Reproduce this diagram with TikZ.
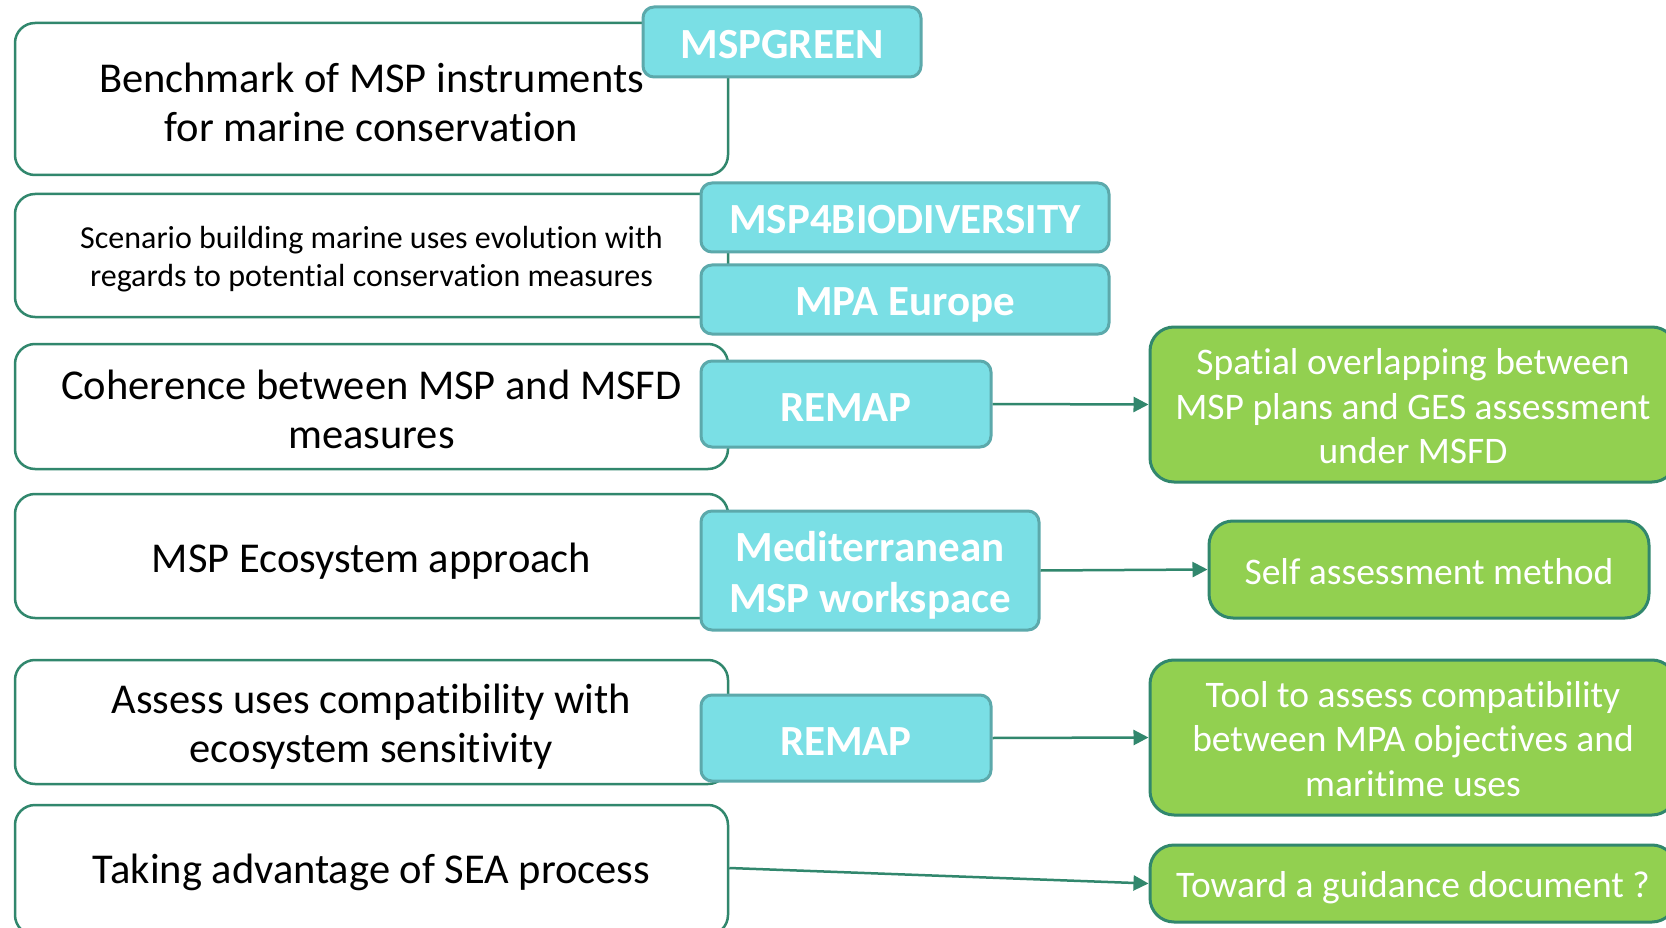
\documentclass[tikz,border=0pt]{standalone}
\usepackage{fontspec}
\setmainfont{Carlito}[Ligatures={NoCommon}]
\usetikzlibrary{arrows.meta}
\definecolor{tealline}{HTML}{31876D}
\definecolor{cyanfill}{HTML}{7ADFE5}
\definecolor{cyanline}{HTML}{5CA9AB}
\definecolor{greenfill}{HTML}{92D050}
\begin{document}
\begin{tikzpicture}[x=1pt,y=-1pt,
  wbox/.style={draw=tealline, line width=2.5pt, rounded corners=20pt, fill=white,
    minimum width=713pt, inner sep=0pt},
  wtext/.style={align=center, inner sep=0pt, text=black,
    font=\fontsize{42.5}{49}\selectfont},
  cbox/.style={draw=cyanline, line width=3pt, rounded corners=11pt, fill=cyanfill,
    inner sep=0pt},
  ctext/.style={align=center, inner sep=0pt, text=white,
    font=\fontsize{43}{51}\selectfont\bfseries},
  gbox/.style={draw=tealline, line width=3pt, rounded corners=24pt, fill=greenfill,
    inner sep=0pt},
  gtext/.style={align=center, inner sep=0pt, text=white,
    font=\fontsize{37.5}{44.5}\selectfont},
  conn/.style={draw=tealline, line width=2.5pt, -{Triangle[length=15pt,width=15pt]}}
]
\useasboundingbox (0,0) rectangle (1666,928);
\clip (0,0) rectangle (1666,928);
\fill[white] (0,0) rectangle (1666,928);

% left boxes
\node[wbox, minimum height=152pt] (b1) at (371.5,99) {};
\node[wtext] (b1t) at ([yshift=-3.5pt]b1.center) {Benchmark of MSP instruments\\for marine conservation};
\node[wbox, minimum height=123pt] (b2) at (371.5,255.5) {};
\node[wtext, font=\fontsize{32}{38}\selectfont] (b2t) at ([yshift=-4pt]b2.center) {Scenario building marine uses evolution with\\regards to potential conservation measures};
\node[wbox, minimum height=125pt] (b3) at (371.5,406.5) {};
\node[wtext] (b3t) at ([yshift=-2.5pt]b3.center) {Coherence between MSP and MSFD\\measures};
\node[wbox, minimum height=124pt] (b4) at (371.5,556) {};
\node[wtext] (b4t) at ([yshift=-5pt]b4.center) {MSP Ecosystem approach};
\node[wbox, minimum height=124pt] (b5) at (371.5,722) {};
\node[wtext] (b5t) at ([yshift=-5pt]b5.center) {Assess uses compatibility with\\ecosystem sensitivity};
\node[wbox, minimum height=130pt] (b6) at (371.5,870) {};
\node[wtext] (b6t) at (371.5,872) {Taking advantage of SEA process};

% project boxes
\node[cbox, minimum width=278pt, minimum height=70pt] (p1) at (782,42) {};
\node[ctext] (p1t) at ([yshift=-2.5pt]p1.center) {MSPGREEN};
\node[cbox, minimum width=408pt, minimum height=69pt] (p2) at (905,217.5) {};
\node[ctext] (p2t) at ([yshift=-2.5pt]p2.center) {MSP4BIODIVERSITY};
\node[cbox, minimum width=408pt, minimum height=69pt] (p3) at (905,299.5) {};
\node[ctext] (p3t) at ([yshift=-5pt]p3.center) {MPA Europe};
\node[cbox, minimum width=290pt, minimum height=86pt] (p4) at (846,404) {};
\node[ctext] (p4t) at ([yshift=-3.5pt]p4.center) {REMAP};
\node[cbox, minimum width=338pt, minimum height=119pt] (p5) at (870,570.5) {};
\node[ctext] (p5t) at ([yshift=-5pt]p5.center) {Mediterranean\\MSP workspace};
\node[cbox, minimum width=290pt, minimum height=86pt] (p6) at (846,738) {};
\node[ctext] (p6t) at ([yshift=-3.5pt]p6.center) {REMAP};

% result boxes
\node[gbox, minimum width=526pt, minimum height=155pt] (g1) at (1413,404.5) {};
\node[gtext] (g1t) at ([yshift=-2pt]g1.center) {Spatial overlapping between\\MSP plans and GES assessment\\under MSFD};
\node[gbox, minimum width=440pt, minimum height=97pt] (g2) at (1429,569.5) {};
\node[gtext] (g2t) at ([yshift=-2.5pt]g2.center) {Self assessment method};
\node[gbox, minimum width=526pt, minimum height=155pt] (g3) at (1413,737.5) {};
\node[gtext] (g3t) at ([yshift=-1.5pt]g3.center) {Tool to assess compatibility\\between MPA objectives and\\maritime uses};
\node[gbox, minimum width=526pt, minimum height=77pt] (g4) at (1413,883.5) {};
\node[gtext] (g4t) at ([yshift=-4pt]g4.center) {Toward a guidance document ?};

% connectors
\draw[conn] (p4.east) -- (g1.west);
\draw[conn] (p5.east) -- (g2.west);
\draw[conn] (p6.east) -- (g3.west);
\draw[conn] (b6.east |- 0,868) -- (g4.west);
\end{tikzpicture}
\end{document}
